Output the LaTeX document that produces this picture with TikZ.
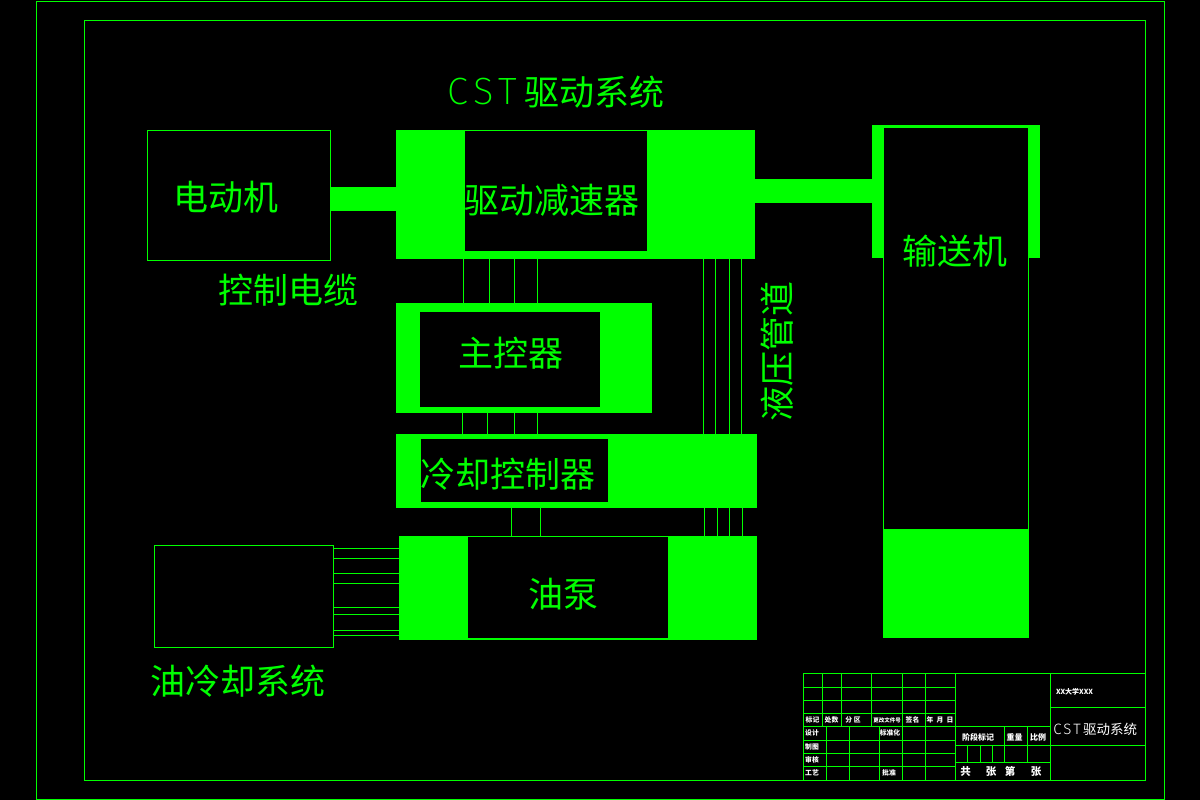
\documentclass[tikz,border=0pt]{standalone}
\usepackage{fontspec}
\newfontfamily\cjk{Noto Sans CJK SC}
\newfontfamily\cstfont[UprightFont=* ExtraLight,LetterSpace=14]{Fira Sans}
\newfontfamily\cstpetit[UprightFont=* Light,LetterSpace=14]{Fira Sans}
\definecolor{cadgreen}{RGB}{0,255,0}
\tikzset{plein/.style = {fill = cadgreen, inner sep = 0, outer sep = 0, anchor = north west},
         creux/.style = {fill = black, draw = cadgreen, line width = 1, inner sep = 0, outer sep = 0, anchor = north west},
         cadre/.style = {draw = cadgreen, line width = 1, inner sep = 0, outer sep = 0, anchor = north west},
         fil/.style = {draw = cadgreen, line width = 1},
         grille/.style = {draw = cadgreen, line width = 1},
         titre/.style = {text = cadgreen, inner sep = 0, font = \fontsize{35}{36}\selectfont\cjk},
         petit/.style = {text = white, inner sep = 0, font = \fontsize{#1}{#1}\selectfont\cjk\bfseries},
         petit/.default = 6.8
        }

\begin{document}
\begin{tikzpicture}[x = 1pt, y = -1pt]
  \useasboundingbox[fill = black] (0, 0) rectangle (1200, 800);
  \node[cadre, minimum width = 1128, minimum height = 798] (feuille) at (36.5, 1.5) {};
  \node[cadre, minimum width = 1061, minimum height = 760] (marge) at (84.5, 20.5) {};

  \node[cadre, minimum width = 183, minimum height = 130] (moteur) at (147.5, 130.5) {};
  \node[plein, minimum width = 359, minimum height = 129] (reducteur) at (396, 130) {};
  \node[creux, minimum width = 182.5, minimum height = 121] (reducteurin) at (464.5, 130.5) {};
  \node[plein, minimum width = 168, minimum height = 133] (convoyeur) at (872, 125) {};
  \node[creux, minimum width = 145, minimum height = 402] (convoyeurin) at (883.5, 127.5) {};
  \node[plein, minimum width = 146, minimum height = 109] (convoyeurbas) at (883, 529) {};
  \node[plein, minimum width = 256, minimum height = 110] (maitre) at (396, 303) {};
  \node[creux, draw = none, minimum width = 180, minimum height = 95] (maitrein) at (420, 312) {};
  \node[plein, minimum width = 361, minimum height = 74] (froid) at (396, 434) {};
  \node[creux, draw = none, minimum width = 187, minimum height = 63] (froidin) at (421, 439) {};
  \node[plein, minimum width = 358, minimum height = 104] (pompe) at (399, 536) {};
  \node[creux, minimum width = 200.5, minimum height = 102] (pompein) at (467.5, 536.5) {};
  \node[cadre, minimum width = 179, minimum height = 102] (huile) at (154.5, 545.5) {};

  \fill[cadgreen] (moteur.east |- 0, 187) rectangle (reducteur.west |- 0, 211);
  \fill[cadgreen] (reducteur.east |- 0, 179) rectangle (convoyeur.west |- 0, 203);

  \foreach \wx in {463.5, 489.5, 514.5, 537.5}
    \draw[fil] (\wx, 0 |- reducteur.south) -- (\wx, 0 |- maitre.north);
  \foreach \wx in {462.5, 487.5, 514.5, 537.5}
    \draw[fil] (\wx, 0 |- maitre.south) -- (\wx, 0 |- froid.north);
  \foreach \wx in {511.5, 540.5, 704.5, 717.5, 729.5, 742.5}
    \draw[fil] (\wx, 0 |- froid.south) -- (\wx, 0 |- pompe.north);
  \foreach \wx in {703.5, 715.5, 729.5, 741.5}
    \draw[fil] (\wx, 0 |- reducteur.south) -- (\wx, 0 |- froid.north);
  \foreach \wy in {548.5, 558.5, 573.5, 583.5, 607.5, 614.5, 630.5, 635.5}
    \draw[fil] (huile.east |- 0, \wy) -- (pompe.west |- 0, \wy);

  \node[titre, font = \fontsize{38}{38}\selectfont\cstfont] (nomcst) at (482, 92) {CST};
  \node[titre] (nomsys) at (594.5, 92) {驱动系统};
  \node[titre] (nommoteur) at (226, 197) {电动机};
  \node[titre] (nomcable) at (288.5, 290) {控制电缆};
  \node[titre] (nomreducteur) at (551.5, 200) {驱动减速器};
  \node[titre] (nomconvoyeur) at (955, 251) {输送机};
  \node[titre] (nommaitre) at (511, 353) {主控器};
  \node[titre] (nomfroid) at (508, 474) {冷却控制器};
  \node[titre] (nompompe) at (563.5, 594) {油泵};
  \node[titre] (nomhuile) at (237.5, 681) {油冷却系统};
  \node[titre, rotate = 90] (nomtube) at (777, 351) {液压管道};

  \node[cadre, minimum width = 342, minimum height = 107] (cartouche) at (803.5, 673.5) {};
  \foreach \gy in {687.5, 700.5, 713.5, 726.5, 740.5, 753.5, 766.5}
    \draw[grille] (cartouche.west |- 0, \gy) -- (955.5, \gy);
  \foreach \gx in {822.5, 841.5, 871.5, 902.5, 925.5}
    \draw[grille] (\gx, 0 |- cartouche.north) -- (\gx, 726.5);
  \foreach \gx in {826.5, 849.5, 879.5, 902.5, 925.5}
    \draw[grille] (\gx, 726.5) -- (\gx, 0 |- cartouche.south);
  \draw[grille] (955.5, 0 |- cartouche.north) -- (955.5, 0 |- cartouche.south);
  \draw[grille] (1050.5, 0 |- cartouche.north) -- (1050.5, 0 |- cartouche.south);
  \draw[grille] (955.5, 726.5) -- (1050.5, 726.5);
  \draw[grille] (955.5, 745.5) -- (cartouche.east |- 0, 745.5);
  \draw[grille] (955.5, 762.5) -- (1050.5, 762.5);
  \draw[grille] (1050.5, 707.5) -- (cartouche.east |- 0, 707.5);
  \foreach \gx in {1004.5, 1027.5}
    \draw[grille] (\gx, 726.5) -- (\gx, 762.5);
  \foreach \gx in {967.5, 980.5, 992.5}
    \draw[grille] (\gx, 745.5) -- (\gx, 762.5);

  \foreach \tx/\ty/\ttexte [count = \ti] in {812.5/720/标记, 831.5/720/处数, 853/720/分\ 区,
      912.5/720/签名, 940/720/年\ \ 月\ \ 日, 812/733/设计, 890/733/标准化,
      812/747/制图, 812/760/审核, 812/773/工艺, 889/773/批准}
    \node[petit] (case\ti) at (\tx, \ty) {\ttexte};
  \node[petit = 5.5] (casefichier) at (887, 720) {更改文件号};
  \node[petit = 8] (casephase) at (978, 737.5) {阶段标记};
  \node[petit = 8] (casepoids) at (1014.5, 737.5) {重量};
  \node[petit = 8] (caseechelle) at (1038, 737.5) {比例};
  \foreach \tx/\ttexte [count = \ti] in {965.5/共, 991/张, 1010/第, 1036/张}
    \node[petit = 10.5] (bas\ti) at (\tx, 771.5) {\ttexte};
  \node[petit = 7] (caseecole) at (1074.5, 692) {XX大学XXX};
  \node[text = white, inner sep = 0, font = \fontsize{15}{15}\selectfont\cstpetit] (casecst) at (1067, 729) {CST};
  \node[petit = 13.5, font = \fontsize{13.5}{14}\selectfont\cjk] (casesys) at (1110, 729) {驱动系统};
\end{tikzpicture}
\end{document}
